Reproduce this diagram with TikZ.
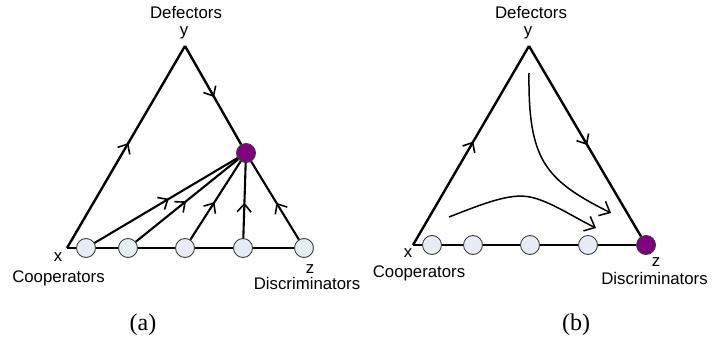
\documentclass[tikz,border=0pt]{standalone}
\usepackage{fontspec}
\setmainfont{Liberation Sans}
\newfontfamily\timesf{Liberation Serif}
\usetikzlibrary{arrows.meta,decorations.markings}
\definecolor{ltblue}{HTML}{E6ECF6}
\definecolor{mypurple}{HTML}{800080}
\definecolor{rim}{HTML}{404040}
\begin{document}
\begin{tikzpicture}[x=1pt,y=-1pt,
  edge/.style={line width=2.4pt},
  base/.style={line width=1.4pt},
  ray/.style={line width=2.1pt},
  flow/.style={line width=1.5pt,-{Straight Barb[length=9pt,width=16pt,line width=1.5pt]}},
  midarrow/.style={postaction={decorate},decoration={markings,
     mark=at position #1 with {\arrow{Straight Barb[length=8pt,width=14pt,line width=1.6pt]}}}},
  pt/.style={circle,draw=rim,fill=ltblue,minimum size=19pt,inner sep=0pt,line width=0.9pt},
  ptp/.style={pt,fill=mypurple},
  lab/.style={font=\fontsize{16.8}{18}\selectfont,inner sep=0pt},
  panelcap/.style={font=\timesf\fontsize{24}{26}\selectfont,inner sep=0pt}
]
\useasboundingbox (0,0) rectangle (712,339);

% ---------- panel (a) ----------
\coordinate (aX) at (67,248);
\coordinate (aY) at (185,46);
\node[pt] (a1) at (86,248) {};
\node[pt] (a2) at (128,248) {};
\node[pt] (a3) at (185,248) {};
\node[pt] (a4) at (243,248) {};
\node[pt] (a5) at (304,248) {};
\node[ptp] (aP) at (246,153) {};

\draw[base] (aX) -- (a1) -- (a2) -- (a3) -- (a4) -- (a5);
\draw[edge,midarrow=0.52] (aX) -- (aY);
\draw[edge,midarrow=0.52] (aY) -- (aP);
\draw[ray,midarrow=0.52] (a1) -- (aP);
\draw[ray,midarrow=0.49] (a2) -- (aP);
\draw[ray,midarrow=0.48] (a3) -- (aP);
\draw[ray,midarrow=0.47] (a4) -- (aP);
\draw[ray,midarrow=0.47] (a5) -- (aP);

\node[lab] (aDef) at (186,13) {Defectors};
\node[lab] (ay) at (184,33) {y};
\node[lab] (ax) at (58,257) {x};
\node[lab] (aCoop) at (58.5,278) {Cooperators};
\node[lab] (az) at (310,269) {z};
\node[lab] (aDis) at (307,283) {Discriminators};
\node[panelcap] (acap) at (143,325) {(a)};

% ---------- panel (b) ----------
\coordinate (bX) at (413,245);
\coordinate (bY) at (529,46);
\node[pt] (b1) at (432,245) {};
\node[pt] (b2) at (473,245) {};
\node[pt] (b3) at (530,245) {};
\node[pt] (b4) at (588,245) {};
\node[ptp] (bP) at (646,245) {};

\draw[base] (bX) -- (b1) -- (b2) -- (b3) -- (b4) -- (bP);
\draw[edge,midarrow=0.52] (bX) -- (bY);
\draw[edge,midarrow=0.52] (bY) -- (bP);

\coordinate (c1s) at (529,73);
\coordinate (c1e) at (611,213);
\coordinate (c2s) at (449,217);
\coordinate (c2m) at (530,197);
\coordinate (c2e) at (596,228);
\draw[flow] (c1s) .. controls (528,160) and (545,180) .. (c1e);
\draw[flow] (c2s) .. controls (485,203) and (510,193) .. (c2m)
                  .. controls (550,201) and (575,218) .. (c2e);

\node[lab] (bDef) at (531,13) {Defectors};
\node[lab] (by) at (528,33) {y};
\node[lab] (bx) at (408,253) {x};
\node[lab] (bCoop) at (419,273) {Cooperators};
\node[lab] (bz) at (656,262) {z};
\node[lab] (bDis) at (654.5,278) {Discriminators};
\node[panelcap] (bcap) at (576,325) {(b)};
\end{tikzpicture}
\end{document}
